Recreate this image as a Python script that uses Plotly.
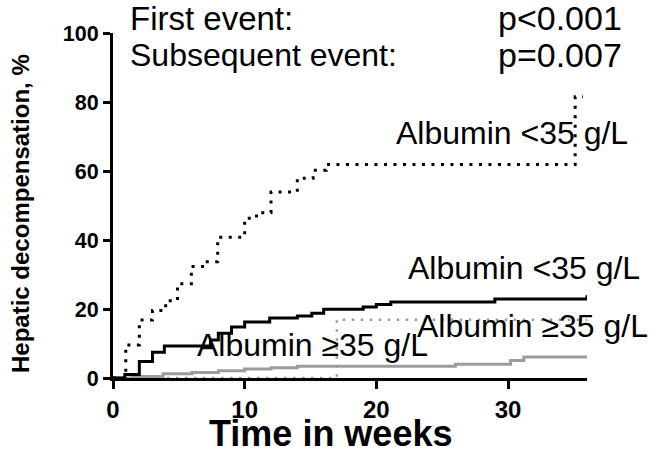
import plotly.graph_objects as go

# ---- data (weeks, cumulative %) ----
first_low_x = [0, 0.9, 2.0, 3.0, 3.9, 7.4, 8.0, 9.0, 10.0, 11.9, 14.0, 15.1, 16.0, 19.0, 20.0, 21.1, 29.0, 36.0]
first_low_y = [0, 1.0, 4.8, 7.5, 9.3, 11.0, 13.0, 14.8, 16.2, 17.4, 18.0, 18.8, 19.9, 20.6, 21.3, 22.0, 22.9, 24.0]

first_high_x = [0, 1.5, 3.8, 6.0, 8.0, 10.0, 12.0, 14.0, 26.0, 30.2, 31.2, 36.0]
first_high_y = [0, 0.4, 1.2, 1.6, 2.1, 2.6, 3.0, 3.4, 4.0, 5.1, 6.1, 6.1]

subs_low_x = [0, 0.97, 2.0, 3.0, 4.0, 4.9, 5.95, 7.0, 7.95, 10.0, 10.9, 12.0, 14.0, 15.2, 16.2, 35.1, 35.7]
subs_low_y = [0, 9.6, 16.8, 19.6, 22.4, 27.3, 32.3, 33.7, 40.8, 46.3, 47.9, 53.9, 57.9, 60.2, 61.9, 81.5, 81.5]

subs_high_x = [0, 17.0, 36.0]
subs_high_y = [0, 16.9, 16.9]

x_ticks = [0, 10, 20, 30]
y_ticks = [0, 20, 40, 60, 80, 100]

FONT = "Arial, Liberation Sans, sans-serif"
GRAY = "#9c9c9c"

fig = go.Figure()
fig.add_trace(go.Scatter(x=first_high_x, y=first_high_y, mode="lines", line_shape="hv",
                         line=dict(color=GRAY, width=3), showlegend=False))
fig.add_trace(go.Scatter(x=subs_high_x, y=subs_high_y, mode="lines", line_shape="hv",
                         line=dict(color=GRAY, width=2.5, dash="2.5px,6.5px"), showlegend=False))
fig.add_trace(go.Scatter(x=first_low_x, y=first_low_y, mode="lines", line_shape="hv",
                         line=dict(color="black", width=3), showlegend=False))
fig.add_trace(go.Scatter(x=subs_low_x, y=subs_low_y, mode="lines", line_shape="hv",
                         line=dict(color="black", width=3, dash="3px,6.5px"), showlegend=False))

W, H = 669, 454
L, R, T, B = 113, 82, 33, 76
pw, ph = W - L - R, H - T - B

def px(x):
    return (x - L) / pw

def py(y):
    return (H - B - y) / ph

annos = [
    ("First event:", 128, 18, 33),
    ("Subsequent event:", 128, 55, 32),
    ("p<0.001", 496, 18, 34),
    ("p=0.007", 496, 55, 34),
    ("Albumin <35 g/L", 394, 133, 32),
    ("Albumin <35 g/L", 406, 268, 32),
    ("Albumin ≥35 g/L", 415, 326, 32),
    ("Albumin ≥35 g/L", 195, 345, 32),
]
annotations = []
for txt, x0, y0, sz in annos:
    annotations.append(dict(text=txt, x=px(x0), y=py(y0), xref="paper", yref="paper",
                            xanchor="left", yanchor="middle", showarrow=False,
                            font=dict(family=FONT, size=sz, color="black")))
annotations.append(dict(text="<b>Time in weeks</b>", x=px(330), y=py(433), xref="paper", yref="paper",
                        xanchor="center", yanchor="middle", showarrow=False,
                        font=dict(family=FONT, size=36, color="black")))
annotations.append(dict(text="<b>Hepatic decompensation, %</b>", x=px(21), y=py(214), xref="paper", yref="paper",
                        xanchor="center", yanchor="middle", showarrow=False, textangle=-90,
                        font=dict(family=FONT, size=24, color="black")))

fig.update_layout(
    width=W, height=H,
    margin=dict(l=L, r=R, t=T, b=B, pad=0),
    paper_bgcolor="white", plot_bgcolor="white",
    annotations=annotations,
    xaxis=dict(range=[0, 36], tickvals=x_ticks, ticktext=[f"<b>{v}</b>" for v in x_ticks],
               ticks="outside", ticklen=8, tickwidth=3, tickcolor="black",
               showline=True, linewidth=3, linecolor="black", showgrid=False, zeroline=False,
               tickfont=dict(family=FONT, size=24, color="black")),
    yaxis=dict(range=[0, 100], tickvals=y_ticks, ticktext=[f"<b>{v}</b>" for v in y_ticks],
               ticks="outside", ticklen=7, tickwidth=3, tickcolor="black",
               showline=True, linewidth=3, linecolor="black", showgrid=False, zeroline=False,
               tickfont=dict(family=FONT, size=21.5, color="black")),
)

fig.write_html("out.html")
